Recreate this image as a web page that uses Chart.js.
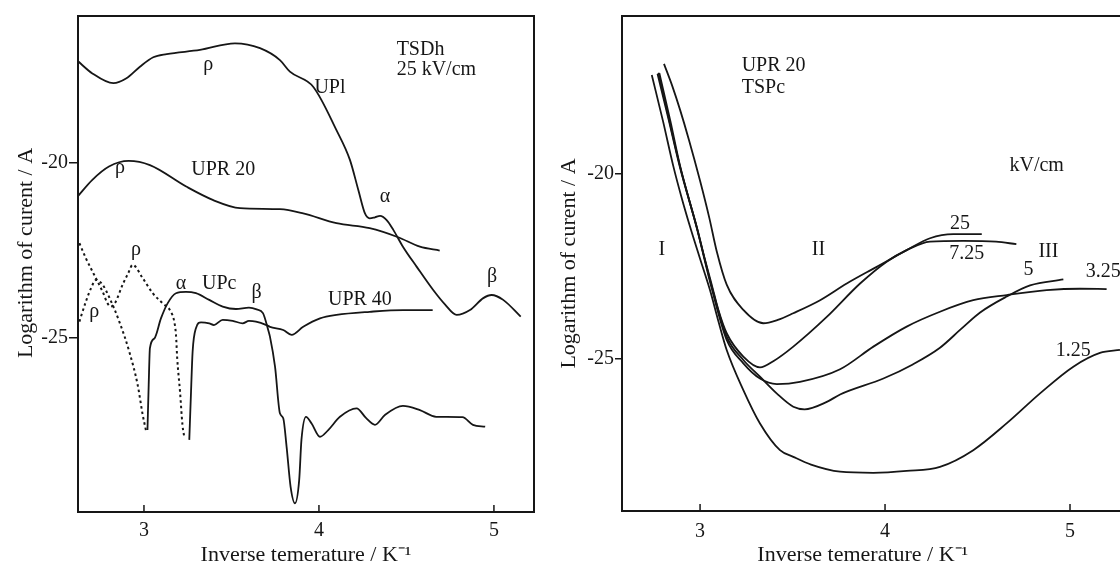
<!DOCTYPE html>
<html>
<head>
<meta charset="utf-8">
<script src="https://cdn.jsdelivr.net/npm/chart.js@4.4.1/dist/chart.umd.min.js"></script>
<style>
  html, body { margin: 0; padding: 0; background: #fff; overflow: hidden; width: 1120px; height: 566px; }
  #leftChart { position: absolute; left: 0; top: 0; }
  #rightChart { position: absolute; left: 550px; top: 0; }
</style>
</head>
<body>
<canvas id="leftChart" width="560" height="566"></canvas>
<canvas id="rightChart" width="580" height="566"></canvas>
<script>
// ---- left panel: TSDh, 25 kV/cm ----
let uplX = [2.62, 2.705, 2.825, 2.90, 2.977, 3.053, 3.13, 3.32, 3.52, 3.663, 3.777, 3.834, 3.967, 4.10, 4.177, 4.225, 4.263, 4.29, 4.32, 4.349, 4.387, 4.425, 4.48, 4.558, 4.653, 4.72, 4.787, 4.863, 4.939, 4.987, 5.053, 5.153];
let uplY = [-17.09, -17.45, -17.73, -17.59, -17.26, -16.99, -16.90, -16.78, -16.59, -16.73, -17.07, -17.40, -17.83, -19.07, -19.92, -20.78, -21.45, -21.59, -21.56, -21.52, -21.64, -21.92, -22.4, -22.97, -23.64, -24.05, -24.35, -24.21, -23.87, -23.78, -23.92, -24.40];

let upr20X = [2.62, 2.705, 2.80, 2.913, 3.034, 3.244, 3.396, 3.549, 3.777, 3.91, 4.10, 4.29, 4.453, 4.577, 4.69];
let upr20Y = [-20.97, -20.49, -20.11, -19.95, -20.07, -20.69, -21.07, -21.30, -21.33, -21.45, -21.73, -21.87, -22.13, -22.4, -22.51];

// dotted curves
let dotAX = [2.631, 2.668, 2.716, 2.764, 2.792, 2.81, 2.833, 2.881, 2.91, 2.935, 2.993, 3.05, 3.107, 3.154, 3.173, 3.183, 3.19, 3.206, 3.22, 3.23];
let dotAY = [-22.30, -22.73, -23.21, -23.69, -24.02, -24.11, -24.02, -23.45, -23.16, -22.92, -23.30, -23.73, -24.02, -24.26, -24.54, -24.92, -25.59, -26.54, -27.49, -27.83];
let dotBX = [2.631, 2.668, 2.697, 2.726, 2.764, 2.80, 2.859, 2.916, 2.964, 2.993, 3.011];
let dotBY = [-24.54, -23.97, -23.59, -23.35, -23.49, -23.83, -24.54, -25.40, -26.35, -27.21, -27.64];

let upcX = [3.02, 3.027, 3.034, 3.06, 3.097, 3.135, 3.183, 3.24, 3.297, 3.373, 3.45, 3.526, 3.60, 3.644, 3.68, 3.71, 3.72, 3.749, 3.777, 3.796, 3.815, 3.838, 3.863, 3.887, 3.90, 3.926, 3.958, 4.006, 4.053, 4.12, 4.215, 4.27, 4.32, 4.377, 4.48, 4.577, 4.67, 4.82, 4.88, 4.95];
let upcY = [-27.64, -26.35, -25.30, -25.02, -24.45, -24.02, -23.73, -23.69, -23.73, -23.92, -24.11, -24.18, -24.14, -24.19, -24.30, -24.78, -24.97, -25.83, -27.16, -27.30, -28.11, -29.26, -29.73, -29.07, -27.92, -27.26, -27.45, -27.83, -27.64, -27.26, -27.02, -27.30, -27.49, -27.21, -26.95, -27.07, -27.26, -27.27, -27.49, -27.54];

let upr40X = [3.259, 3.269, 3.278, 3.297, 3.326, 3.373, 3.40, 3.45, 3.507, 3.564, 3.60, 3.64, 3.70, 3.72, 3.796, 3.844, 3.91, 4.006, 4.10, 4.29, 4.48, 4.65];
let upr40Y = [-27.92, -26.54, -25.40, -24.73, -24.56, -24.59, -24.64, -24.49, -24.52, -24.59, -24.52, -24.54, -24.64, -24.69, -24.78, -24.92, -24.69, -24.45, -24.35, -24.26, -24.21, -24.21];

let leftNotes = [
  ["ρ", 3.367, -17.2], ["UPl", 4.063, -17.87], ["TSDh", 4.444, -16.78, "left"], ["25 kV/cm", 4.444, -17.34, "left"],
  ["α", 4.377, -20.97], ["ρ", 2.863, -20.15], ["UPR 20", 3.453, -20.21],
  ["ρ", 2.954, -22.48], ["ρ", 2.716, -24.25], ["α", 3.211, -23.45], ["UPc", 3.43, -23.45],
  ["β", 3.644, -23.72], ["UPR 40", 4.234, -23.92], ["β", 4.99, -23.27]
];

// ---- right panel: UPR 20, TSPc ----
let f25X = [2.805, 2.85, 2.892, 2.94, 3.0, 3.05, 3.09, 3.144, 3.234, 3.342, 3.42, 3.504, 3.649, 3.793, 3.955, 4.117, 4.243, 4.369, 4.523];
let f25Y = [-17.05, -17.65, -18.29, -19.1, -20.2, -21.2, -22.1, -23.0, -23.68, -24.04, -23.95, -23.77, -23.42, -22.97, -22.52, -22.07, -21.75, -21.64, -21.64];

let f725X = [2.775, 2.83, 2.892, 2.94, 2.982, 3.02, 3.063, 3.10, 3.144, 3.234, 3.324, 3.40, 3.504, 3.685, 3.865, 4.009, 4.117, 4.243, 4.423, 4.60, 4.71];
let f725Y = [-17.29, -18.5, -19.82, -20.7, -21.44, -22.2, -23.0, -23.7, -24.31, -24.94, -25.23, -25.05, -24.67, -23.87, -22.97, -22.38, -22.07, -21.84, -21.82, -21.84, -21.91];

let f5X = [2.78, 2.84, 2.892, 2.982, 3.063, 3.144, 3.234, 3.324, 3.414, 3.504, 3.565, 3.685, 3.757, 3.991, 4.15, 4.297, 4.41, 4.514, 4.658, 4.784, 4.964];
let f5Y = [-17.3, -18.6, -19.8, -21.45, -23.05, -24.4, -25.03, -25.48, -25.93, -26.29, -26.36, -26.16, -25.96, -25.53, -25.15, -24.7, -24.2, -23.75, -23.32, -23.02, -22.86];

let f325X = [2.77, 2.83, 2.892, 2.982, 3.063, 3.144, 3.234, 3.324, 3.415, 3.54, 3.757, 3.937, 4.117, 4.297, 4.477, 4.658, 4.874, 5.054, 5.198];
let f325Y = [-17.32, -18.55, -19.85, -21.47, -23.1, -24.49, -25.12, -25.53, -25.68, -25.62, -25.28, -24.67, -24.13, -23.73, -23.42, -23.28, -23.15, -23.11, -23.12];

let f125X = [2.739, 2.80, 2.856, 2.90, 2.946, 3.0, 3.054, 3.10, 3.144, 3.234, 3.324, 3.432, 3.504, 3.6, 3.757, 3.937, 4.117, 4.297, 4.477, 4.657, 4.838, 5.018, 5.162, 5.27];
let f125Y = [-17.35, -18.6, -19.82, -20.65, -21.44, -22.3, -23.15, -24.0, -24.76, -25.84, -26.74, -27.46, -27.64, -27.85, -28.04, -28.07, -28.02, -27.91, -27.46, -26.74, -25.93, -25.21, -24.84, -24.76];

let rightNotes = [
  ["UPR 20", 3.225, -17.10, "left"], ["TSPc", 3.225, -17.69, "left"], ["kV/cm", 4.82, -19.80],
  ["I", 2.793, -22.07], ["II", 3.64, -22.07], ["III", 4.883, -22.11],
  ["25", 4.405, -21.35], ["7.25", 4.442, -22.16], ["5", 4.775, -22.61], ["3.25", 5.18, -22.65], ["1.25", 5.018, -24.78]
];

let xTicks = [3, 4, 5];
let yTicks = [-25, -20];

const ink = "#161616";
const serif = "'Liberation Serif', 'Times New Roman', serif";
Chart.defaults.font.family = serif;
Chart.defaults.color = ink;

function pts(xs, ys) {
  return xs.map((x, i) => ({ x: x, y: ys[i] }));
}

function line(xs, ys, dashed) {
  return {
    data: pts(xs, ys),
    showLine: true,
    borderColor: ink,
    borderWidth: dashed ? 2 : 1.8,
    borderDash: dashed ? [2.5, 3] : [],
    pointRadius: 0,
    fill: false,
    cubicInterpolationMode: "monotone",
  };
}

// frame, inward x ticks and the text notes
const framePlugin = {
  id: "frame",
  afterDatasetsDraw(chart, args, opts) {
    let ctx = chart.ctx;
    let a = chart.chartArea;
    let xs = chart.scales.x;
    let ys = chart.scales.y;
    ctx.save();
    ctx.strokeStyle = ink;
    ctx.lineWidth = 2;
    ctx.strokeRect(a.left, a.top, a.right - a.left, a.bottom - a.top);
    ctx.lineWidth = 1.5;
    xs.ticks.forEach(t => {
      let px = xs.getPixelForValue(t.value);
      ctx.beginPath();
      ctx.moveTo(px, a.bottom);
      ctx.lineTo(px, a.bottom - 7);
      ctx.stroke();
    });
    ctx.fillStyle = ink;
    ctx.font = "20px " + serif;
    ctx.textBaseline = "middle";
    opts.notes.forEach(n => {
      ctx.textAlign = n[3] || "center";
      ctx.fillText(n[0], xs.getPixelForValue(n[1]), ys.getPixelForValue(n[2]));
    });
    ctx.restore();
  }
};

function makeOptions(p) {
  return {
    responsive: false,
    animation: false,
    events: [],
    layout: { padding: { left: 0, top: 16, right: p.padRight, bottom: 0 } },
    plugins: {
      legend: { display: false },
      tooltip: { enabled: false },
      frame: { notes: p.notes },
    },
    scales: {
      x: {
        type: "linear",
        min: p.xMin,
        max: p.xMax,
        afterBuildTicks: s => { s.ticks = xTicks.map(v => ({ value: v })); },
        afterFit: s => { s.height = p.xHeight; },
        grid: { display: false },
        border: { display: false },
        ticks: { padding: p.xPad, font: { size: 20, lineHeight: 0.8 }, color: ink },
        title: {
          display: true,
          text: p.xTitle,
          font: { size: 22, lineHeight: 1 },
          padding: { top: 0, bottom: 0 },
          color: ink,
        },
      },
      y: {
        type: "linear",
        min: p.yMin,
        max: p.yMax,
        afterBuildTicks: s => { s.ticks = yTicks.map(v => ({ value: v })); },
        afterFit: s => { s.width = p.yWidth; },
        grid: { display: true, drawOnChartArea: false, drawTicks: true, tickLength: p.tickLen, color: ink, lineWidth: 1.5 },
        border: { display: false },
        ticks: { padding: 1, font: { size: 20 }, color: ink },
        title: {
          display: true,
          text: p.yTitle,
          font: { size: 22, lineHeight: 1 },
          padding: { top: p.titlePad, bottom: 0 },
          color: ink,
        },
      },
    },
  };
}

let leftChart = new Chart(document.getElementById("leftChart").getContext("2d"), {
  type: "scatter",
  data: {
    datasets: [
      line(uplX, uplY),
      line(upr20X, upr20Y),
      line(dotAX, dotAY, true),
      line(dotBX, dotBY, true),
      line(upcX, upcY),
      line(upr40X, upr40Y),
    ],
  },
  options: makeOptions({
    notes: leftNotes, padRight: 26, xMin: 2.623, xMax: 5.229, yMin: -29.98, yMax: -15.81,
    xHeight: 54, xPad: 3, yWidth: 78, tickLen: 9, titlePad: 15,
    xTitle: "Inverse temerature / K⁻¹",
    yTitle: "    Logarithm of curent / A",
  }),
  plugins: [framePlugin],
});

let rightChart = new Chart(document.getElementById("rightChart").getContext("2d"), {
  type: "scatter",
  data: {
    datasets: [
      line(f25X, f25Y),
      line(f725X, f725Y),
      line(f5X, f5Y),
      line(f325X, f325Y),
      line(f125X, f125Y),
    ],
  },
  options: makeOptions({
    notes: rightNotes, padRight: 4.5, xMin: 2.578, xMax: 5.3, yMin: -29.1, yMax: -15.76,
    xHeight: 55, xPad: 5, yWidth: 72, tickLen: 7, titlePad: 8,
    xTitle: "Inverse temerature / K⁻¹    ",
    yTitle: "Logarithm of curent / A",
  }),
  plugins: [framePlugin],
});
</script>
</body>
</html>
